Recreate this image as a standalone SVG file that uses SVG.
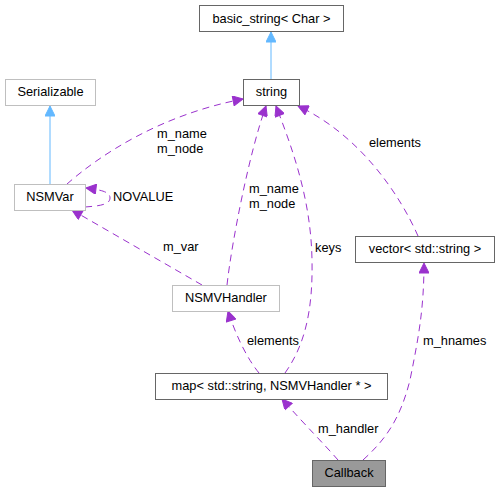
<svg xmlns="http://www.w3.org/2000/svg" width="499" height="492" viewBox="0 0 499 492">
<defs>
<style>
text{font-family:"Liberation Sans",Arial,sans-serif;font-size:12.8px;fill:#000}
.n{fill:#fff;stroke:#666;stroke-width:1}
.g{fill:#fff;stroke:#bfbfbf;stroke-width:1}
.cb{fill:#999;stroke:#666;stroke-width:1}
.c{text-anchor:middle}
.e{fill:none;stroke:#9a32cd;stroke-width:1;stroke-dasharray:7,5}
.b{fill:none;stroke:#63b8ff;stroke-width:1}
.ah{fill:#9a32cd;stroke:#9a32cd}
.bh{fill:#63b8ff;stroke:#63b8ff}
</style>
<marker id="pa" viewBox="0 0 10 10" refX="10" refY="5" markerWidth="13" markerHeight="10" markerUnits="userSpaceOnUse" orient="auto"><path d="M0,0 L10,5 L0,10 z" class="ah"/></marker>
<marker id="ba" viewBox="0 0 10 10" refX="10" refY="5" markerWidth="13" markerHeight="10" markerUnits="userSpaceOnUse" orient="auto"><path d="M0,0 L10,5 L0,10 z" class="bh"/></marker>
</defs>
<rect width="499" height="492" fill="#fff"/>
<g id="edges">
<path class="b" d="M271,79 L271,32" marker-end="url(#ba)"/>
<path class="b" d="M50,184 L50,106" marker-end="url(#ba)"/>
<path class="e" d="M67,184 C100,155 160,115 243,99" marker-end="url(#pa)"/>
<path class="e" d="M85,207 C98,206 110,205 110,198 C110,192 102,190 86,188" marker-end="url(#pa)"/>
<path class="e" d="M202,285 L72,210" marker-end="url(#pa)"/>
<path class="e" d="M227,285 C232,240 250,150 266,106" marker-end="url(#pa)"/>
<path class="e" d="M285,373 C305,345 313,310 312,260 C311,200 293,150 276,106" marker-end="url(#pa)"/>
<path class="e" d="M418,236 C400,195 360,135 298,106" marker-end="url(#pa)"/>
<path class="e" d="M259,373 C250,362 238,342 228,311" marker-end="url(#pa)"/>
<path class="e" d="M338,460 C325,445 305,425 282,399" marker-end="url(#pa)"/>
<path class="e" d="M363,460 C385,440 400,420 410,380 C418,340 424,310 424,263" marker-end="url(#pa)"/>
<text x="157" y="138">m_name</text>
<text x="157" y="153">m_node</text>
<text x="113" y="201">NOVALUE</text>
<text x="163" y="251">m_var</text>
<text x="249" y="193">m_name</text>
<text x="249" y="208">m_node</text>
<text x="315" y="252">keys</text>
<text x="369" y="147">elements</text>
<text x="247" y="345">elements</text>
<text x="318" y="433">m_handler</text>
<text x="423" y="345">m_hnames</text>
</g>
<g id="basic_string"><rect class="n" x="199.5" y="5.5" width="144" height="26"/><text class="c" x="271.5" y="23">basic_string&lt; Char &gt;</text></g>
<g id="string"><rect class="n" x="243.5" y="79.5" width="56" height="26"/><text class="c" x="271.5" y="96">string</text></g>
<g id="Serializable"><rect class="g" x="5.5" y="79.5" width="90" height="26"/><text class="c" x="50.5" y="96">Serializable</text></g>
<g id="NSMVar"><rect class="g" x="14.5" y="184.5" width="71" height="26"/><text class="c" x="50" y="201">NSMVar</text></g>
<g id="NSMVHandler"><rect class="g" x="172.5" y="285.5" width="107" height="26"/><text class="c" x="226" y="302">NSMVHandler</text></g>
<g id="map"><rect class="n" x="155.5" y="373.5" width="232" height="26"/><text class="c" x="271.5" y="390">map&lt; std::string, NSMVHandler * &gt;</text></g>
<g id="vector"><rect class="n" x="355.5" y="236.5" width="139" height="26"/><text class="c" x="425" y="253">vector&lt; std::string &gt;</text></g>
<g id="Callback"><rect class="cb" x="312.5" y="460.5" width="73" height="26"/><text class="c" x="349" y="477">Callback</text></g>
</svg>
